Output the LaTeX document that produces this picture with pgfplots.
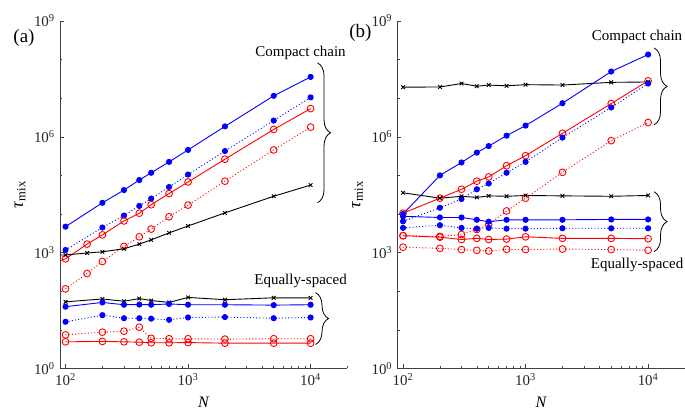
\documentclass[border=0pt]{standalone}
\usepackage{fontspec}
\setmainfont{Liberation Serif}
\usepackage{pgfplots}
\pgfplotsset{compat=1.18}
\usetikzlibrary{decorations.pathreplacing}

\pgfplotsset{
  every axis/.append style={
    scale only axis, width=288pt, height=348pt,
    xmin=90, xmax=20000, ymin=1, ymax=1e9,
    axis lines*=left,
    axis line style={black!75, line width=0.6pt},
    tick style={black!75, line width=0.5pt},
    tick align=inside,
    major tick length=4pt, minor tick length=2.5pt,
    xtick={100,1000,10000},
    xticklabels={10\textsuperscript{2},10\textsuperscript{3},10\textsuperscript{4}},
    minor xtick={200,300,400,500,600,700,800,900,2000,3000,4000,5000,6000,7000,8000,9000,20000},
    ytick={1,1e3,1e6,1e9},
    yticklabels={10\textsuperscript{0},10\textsuperscript{3},10\textsuperscript{6},10\textsuperscript{9}},
    minor ytick={10,100,1e4,1e5,1e7,1e8},
    tick label style={text=black!85},
    xlabel={\textit{N}},
    ylabel={\textit{τ}\textsubscript{mix}},
  },
  every axis y label/.style={at={(axis description cs:-0.139,0.5)}, rotate=90, anchor=center,
    font=\fontsize{18}{20}\selectfont},
  every axis x label/.style={at={(axis description cs:0.5,0)}, yshift=-34pt, anchor=center,
    font=\fontsize{16}{18}\selectfont},
}
\tikzset{
  bluesolid/.style={blue, line width=0.9pt, mark=*, mark size=2.6pt, mark options={solid, fill=blue}},
  bluedot/.style={bluesolid, dash pattern=on 1pt off 2.2pt},
  redsolid/.style={red, line width=0.9pt, mark=o, mark size=3.4pt, mark options={solid}},
  reddot/.style={redsolid, dash pattern=on 1pt off 2.2pt},
  blacksolid/.style={black, line width=0.9pt, mark=x, mark size=2.6pt, mark options={solid}},
}

\begin{document}
\fontsize{15}{18}\selectfont
\begin{tikzpicture}
\useasboundingbox (-60pt,-42pt) rectangle (626pt,369pt);

% ---------- panel (a) ----------
\begin{loglogaxis}[at={(0pt,0pt)}, anchor=south west]
  % compact chain
  \addplot[bluesolid] coordinates {(100,4700) (200,19500) (300,41700) (400,75900) (500,117000)
    (700,224000) (1000,457000) (2000,1.86e6) (5000,1.15e7) (10000,3.55e7)};
  \addplot[bluedot] coordinates {(100,1170) (200,4470) (300,9120) (400,16200) (500,25100)
    (700,50100) (1000,105000) (2000,427000) (5000,2.63e6) (10000,1.05e7)};
  \addplot[redsolid] coordinates {(50,324) (100,692) (150,1660) (200,2880) (300,6610) (400,10500)
    (500,17400) (700,33900) (1000,67600) (2000,263000) (5000,1.55e6) (10000,5.37e6)};
  \addplot[reddot] coordinates {(100,115) (150,288) (200,589) (300,1450) (400,2570) (500,4070)
    (700,8510) (1000,17000) (2000,70800) (5000,457000) (10000,1.78e6)};
  \addplot[blacksolid] coordinates {(50,832) (100,871) (150,977) (200,1050) (300,1260) (400,1660)
    (500,2140) (700,3240) (1000,4900) (2000,10700) (5000,28800) (10000,56200)};
  % equally-spaced
  \addplot[blacksolid] coordinates {(100,53.1) (200,63.1) (300,55.0) (400,64.6) (500,57.5)
    (700,51.3) (1000,69.2) (2000,60.3) (5000,67.6) (10000,67.6)};
  \addplot[bluesolid] coordinates {(100,39.8) (200,51.3) (300,44.7) (400,45.2) (500,44.7)
    (700,46.8) (1000,44.7) (2000,44.7) (5000,43.7) (10000,44.7)};
  \addplot[bluedot] coordinates {(100,16.2) (200,24.0) (300,20.0) (400,20.0) (500,19.5)
    (700,18.2) (1000,20.9) (2000,21.4) (5000,20.0) (10000,20.9)};
  \addplot[reddot] coordinates {(100,7.41) (200,8.71) (300,9.23) (400,11.7) (500,6.03)
    (700,5.89) (1000,5.89) (2000,5.75) (5000,5.89) (10000,5.89)};
  \addplot[redsolid] coordinates {(100,4.90) (200,5.01) (300,4.90) (400,4.79) (500,4.62)
    (700,4.62) (1000,4.68) (2000,4.52) (5000,4.52) (10000,4.52)};
\end{loglogaxis}

% ---------- panel (b) ----------
\begin{loglogaxis}[at={(338pt,0pt)}, anchor=south west]
  % compact chain
  \addplot[blacksolid] coordinates {(100,1.93e7) (200,1.95e7) (300,2.40e7) (400,2.04e7) (500,2.19e7)
    (700,2.09e7) (1000,2.24e7) (2000,2.19e7) (5000,2.57e7) (10000,2.63e7)};
  \addplot[bluesolid] coordinates {(100,1.0e4) (200,1.0e5) (300,2.16e5) (400,3.89e5) (500,5.75e5)
    (700,1.07e6) (1000,1.95e6) (2000,7.41e6) (5000,4.90e7) (10000,1.35e8)};
  \addplot[redsolid] coordinates {(100,1.05e4) (200,2.57e4) (300,4.37e4) (400,7.08e4) (500,9.12e4)
    (700,1.78e5) (1000,3.24e5) (2000,1.23e6) (5000,7.24e6) (10000,2.82e7)};
  \addplot[bluedot] coordinates {(100,6460) (200,14500) (300,24500) (400,43700) (500,61700)
    (700,117000) (1000,224000) (2000,955000) (5000,5.75e6) (10000,2.40e7)};
  \addplot[reddot] coordinates {(100,2750) (200,2630) (300,2950) (400,3980) (500,5370)
    (700,12000) (1000,25700) (2000,120000) (5000,794000) (10000,2.34e6)};
  % equally-spaced
  \addplot[blacksolid] coordinates {(100,35500) (200,25700) (300,28800) (400,26900) (500,29500)
    (700,28800) (1000,30200) (2000,29500) (5000,28800) (10000,30200)};
  \addplot[bluesolid] coordinates {(100,8710) (200,8130) (300,8130) (400,7080) (500,6310)
    (700,7080) (1000,7080) (2000,7080) (5000,7240) (10000,7240)};
  \addplot[bluedot] coordinates {(100,4370) (200,5130) (300,4370) (400,4170) (500,4370)
    (700,4170) (1000,4170) (2000,4270) (5000,4270) (10000,4270)};
  \addplot[redsolid] coordinates {(100,2750) (200,2510) (300,2190) (400,2340) (500,2190)
    (700,2240) (1000,2570) (2000,2340) (5000,2340) (10000,2290)};
  \addplot[reddot] coordinates {(100,1380) (200,1290) (300,1200) (400,1150) (500,1100)
    (700,1220) (1000,1200) (2000,1240) (5000,1200) (10000,1150)};
\end{loglogaxis}

% ---------- annotations ----------
\node[font=\fontsize{19}{21}\selectfont] at (-36pt,331pt) {(a)};
\node[font=\fontsize{19}{21}\selectfont] at (301pt,336pt) {(b)};

\node at (241pt,316pt) {Compact chain};
\draw[decorate, decoration={brace, amplitude=13pt}, line width=0.8pt] (258pt,306pt) -- (258pt,166pt);
\node at (241pt,88pt) {Equally-spaced};
\draw[decorate, decoration={brace, amplitude=13pt}, line width=0.8pt] (256pt,76pt) -- (256pt,24pt);

\node at (578pt,332pt) {Compact chain};
\draw[decorate, decoration={brace, amplitude=13pt}, line width=0.8pt] (595pt,321pt) -- (595pt,244pt);
\draw[decorate, decoration={brace, amplitude=13pt}, line width=0.8pt] (595pt,177pt) -- (595pt,117pt);
\node at (578pt,104pt) {Equally-spaced};
\end{tikzpicture}
\end{document}
